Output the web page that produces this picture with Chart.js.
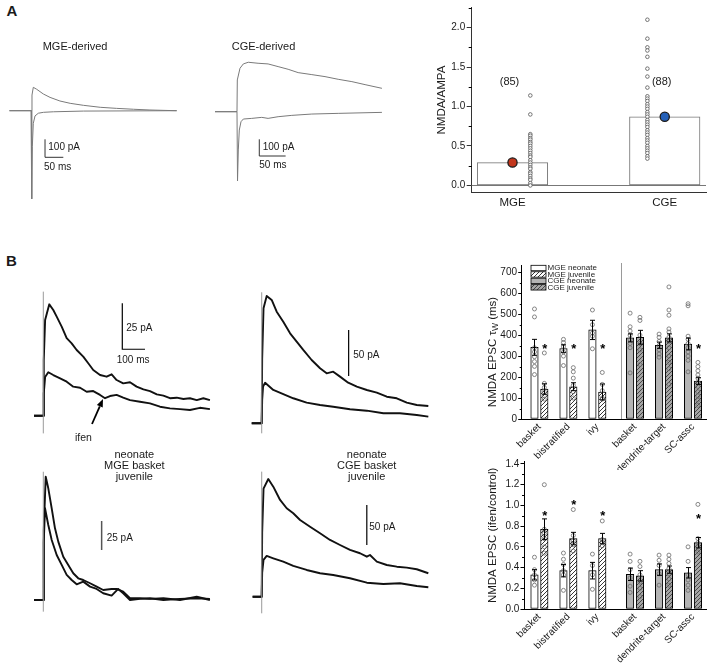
<!DOCTYPE html>
<html>
<head>
<meta charset="utf-8">
<script src="https://cdn.jsdelivr.net/npm/chart.js@4.4.1/dist/chart.umd.min.js"></script>
<style>
html,body{margin:0;padding:0;background:#fff}
body{position:relative;width:716px;height:665px;overflow:hidden;font-family:"Liberation Sans",Arial,Helvetica,sans-serif;color:#1a1a1a}
canvas{position:absolute}
.t{position:absolute;white-space:nowrap;line-height:1;font-size:10px}
.c{transform:translate(-50%,-50%)}
.l{transform:translate(0,-50%)}
</style>
</head>
<body>
<canvas id="aMge" width="200" height="175" style="left:0px;top:40px"></canvas>
<canvas id="aCge" width="190" height="165" style="left:205px;top:40px"></canvas>
<canvas id="aBar" width="296" height="240" style="left:420px;top:0px"></canvas>
<canvas id="bTL" width="190" height="160" style="left:30px;top:285px"></canvas>
<canvas id="bTR" width="190" height="160" style="left:245px;top:285px"></canvas>
<canvas id="bBL" width="190" height="160" style="left:30px;top:465px"></canvas>
<canvas id="bBR" width="190" height="160" style="left:245px;top:465px"></canvas>
<canvas id="bTau" width="256" height="215" style="left:460px;top:255px"></canvas>
<canvas id="bIfen" width="256" height="215" style="left:460px;top:450px"></canvas>

<div class="t c" style="left:12px;top:10px;font-size:15px;font-weight:bold">A</div>
<div class="t c" style="left:11.5px;top:259.5px;font-size:15px;font-weight:bold">B</div>
<div class="t l" style="left:42.7px;top:45.8px;font-size:11px">MGE-derived</div>
<div class="t l" style="left:231.7px;top:45.8px;font-size:11px">CGE-derived</div>
<div class="t l" style="left:48.3px;top:147.3px">100 pA</div>
<div class="t l" style="left:44px;top:166.7px">50 ms</div>
<div class="t l" style="left:262.7px;top:147px">100 pA</div>
<div class="t l" style="left:259.3px;top:165px">50 ms</div>
<div class="t l" style="left:126.3px;top:327.5px">25 pA</div>
<div class="t l" style="left:116.7px;top:360.3px">100 ms</div>
<div class="t l" style="left:75px;top:437px;font-size:10.5px">ifen</div>
<div class="t l" style="left:353.3px;top:355.3px">50 pA</div>
<div class="t c" style="left:134.3px;top:453.7px;font-size:11px">neonate</div>
<div class="t c" style="left:134.3px;top:464.6px;font-size:11px">MGE basket</div>
<div class="t c" style="left:134.3px;top:475.6px;font-size:11px">juvenile</div>
<div class="t l" style="left:106.7px;top:537.8px">25 pA</div>
<div class="t c" style="left:366.7px;top:453.7px;font-size:11px">neonate</div>
<div class="t c" style="left:366.7px;top:464.6px;font-size:11px">CGE basket</div>
<div class="t c" style="left:366.7px;top:475.6px;font-size:11px">juvenile</div>
<div class="t l" style="left:369.3px;top:526.7px">50 pA</div>

<script>
// ---------------- DATA ----------------
// Panel A: example EPSC traces (time in ms, current in pA)
const aMgeNmdaT = [-59, 0, 2.7, 6.3, 15.6, 33.6, 52, 79, 107, 143, 189, 234, 280, 325, 398];
const aMgeNmdaI = [0, 0, 87, 130, 119, 93, 74, 54, 41, 30, 19, 13, 8, 4, 0];
const aMgeAmpaT = [-59, 0, 2, 3.6, 6.3, 11, 20, 34, 61, 143, 398];
const aMgeAmpaI = [0, 0, -490, -200, -70, -29, -14, -9, -6, -2, 0];
const aCgeNmdaT = [-41.7, 0, 0.6, 5.7, 12, 21.4, 40, 59, 78, 97, 116, 142, 167, 192, 218, 243, 275];
const aCgeNmdaI = [0, 0, 190, 260, 286, 296, 290, 286, 270, 254, 234, 222, 210, 194, 180, 162, 140];
const aCgeAmpaT = [-41.7, 0, 1, 2.5, 4.4, 7.6, 12, 28, 47, 59, 78, 104, 142, 192, 275];
const aCgeAmpaI = [0, 0, -415, -229, -110, -60, -44, -40, -34, -40, -30, -22, -14, -10, -4];

// Panel A: NMDA/AMPA ratio
const aCats = ['MGE', 'CGE'];
const aMeans = [0.29, 0.87];
const aCounts = ['(85)', '(88)'];
const aMgeCells = [1.14, 0.90, 0.65, 0.63, 0.60, 0.58, 0.55, 0.53, 0.50, 0.47, 0.44, 0.41, 0.38, 0.36, 0.32, 0.29, 0.26, 0.23, 0.21, 0.17, 0.15, 0.12, 0.09, 0.07, 0.03, 0.0];
const aCgeCells = [2.10, 1.86, 1.75, 1.71, 1.63, 1.48, 1.38, 1.24, 1.13, 1.10, 1.07, 1.03, 1.00, 0.97, 0.93, 0.90, 0.87, 0.83, 0.80, 0.77, 0.74, 0.70, 0.67, 0.64, 0.60, 0.57, 0.54, 0.50, 0.47, 0.44, 0.41, 0.37, 0.34];
const aYTicks = [0, 0.5, 1.0, 1.5, 2.0];

// Panel B: traces (ms, pA)
const bTLCtrlT = [-41, 0, 2, 8, 26.4, 44, 59, 81, 103, 125, 147, 176, 198, 220, 250, 279, 301, 323, 352, 382, 411, 441, 470, 500, 529, 558, 588, 617, 646, 676, 705, 734];
const bTLCtrlI = [0, 0, 30, 52, 60.5, 57.4, 53.8, 48.4, 42.1, 39.3, 35.7, 32.1, 28.5, 24.8, 22.1, 21.2, 22.5, 19.4, 17.6, 18.2, 15.8, 14.3, 13.4, 11.6, 10.9, 9.5, 9.8, 9.1, 9.5, 8.5, 9.5, 8.5];
const bTLIfenT = [-41, 0, 2, 8, 22, 44, 74, 103, 132, 162, 191, 220, 250, 272, 294, 323, 352, 382, 426, 470, 514, 558, 602, 646, 690, 734];
const bTLIfenI = [0, 0, 12, 21, 23.6, 22.1, 20.3, 18.5, 15.8, 15.2, 13.0, 13.4, 11.3, 9.5, 10.7, 11.3, 9.8, 8.5, 7.6, 6.7, 4.9, 4.0, 3.6, 3.1, 4.3, 3.6];
const bTLArtI = [-9.6, 67.4];

const bTRCtrlT = [-44, 0, 2, 8, 22, 44, 66, 95, 125, 154, 183, 220, 257, 286, 315, 345, 381, 419, 463, 507, 551, 595, 639, 683, 734];
const bTRCtrlI = [0, 0, 70, 125, 138.4, 134, 121.3, 110.4, 97.8, 88.7, 79.7, 68.8, 59.8, 54.3, 56.1, 50.7, 44.1, 39.8, 36.2, 33.3, 28.9, 27.2, 22.4, 19.9, 18.8];
const bTRIfenT = [-44, 0, 2, 6, 15, 51, 95, 139, 198, 257, 315, 389, 463, 536, 609, 683, 734];
const bTRIfenI = [0, 0, 25, 40, 44.1, 36.2, 31.8, 27.2, 22.4, 19.9, 18.0, 15.2, 13.7, 10.9, 10.9, 9.0, 7.2];
const bTRArtI = [-10.9, 142.4];

const bBLNeoT = [-41, 0, 2, 10.6, 22, 37, 51.5, 66, 88, 110, 132, 154, 176, 206, 235, 264, 301, 323, 352, 382, 426, 470, 529, 602, 676, 734];
const bBLNeoI = [0, 0, 60, 106.3, 96.3, 79.0, 61.8, 50.3, 37.3, 30.2, 23.0, 18.7, 17.2, 14.4, 11.5, 8.6, 9.5, 9.5, 7.2, 1.5, 1.5, 0.9, 1.5, 0, 2.8, 0];
const bBLJuvT = [-41, 0, 2, 7.5, 22, 37, 59, 81, 103, 125, 147, 176, 206, 235, 264, 301, 330, 352, 382, 426, 470, 529, 602, 676, 734];
const bBLJuvI = [0, 0, 50, 79.1, 64.7, 51.7, 38.8, 30.2, 21.6, 17.2, 13.5, 15.8, 11.5, 9.5, 5.8, 3.7, 9.5, 5.8, 0, 0.9, 1.5, 0, 0.9, 1.5, 0.9];
const bBLArtI = [-10.1, 110.6];

const bBRNeoT = [-40, 0, 2, 8, 29, 51, 81, 110, 139, 169, 213, 257, 301, 345, 389, 433, 463, 477, 507, 551, 595, 639, 683, 734];
const bBRNeoI = [0, 0, 80, 135, 147.1, 137.5, 120.9, 110.5, 104.3, 95.9, 87.5, 79.3, 70.9, 64.6, 58.4, 54.3, 50, 52.1, 43.8, 39.6, 37.5, 36.3, 34.3, 29.3];
const bBRJuvT = [-40, 0, 2, 8, 22, 51, 95, 139, 198, 257, 315, 389, 463, 536, 609, 683, 734];
const bBRJuvI = [0, 0, 30, 46, 50.9, 48, 43.8, 38.4, 33.4, 29.3, 27.1, 23, 17.5, 15.9, 16.8, 13.4, 11.8];
const bBRArtI = [-20.8, 156.3];

// Panel B: group summaries
const bGroups = ['basket', 'bistratified', 'ivy', 'basket', 'dendrite-target', 'SC-assc'];
const bLegend = ['MGE neonate', 'MGE juvenile', 'CGE neonate', 'CGE juvenile'];

const tauMgeNeo = [342, 336, 425], tauMgeNeoErr = [38, 18, 46];
const tauMgeJuv = [143, 154, 129], tauMgeJuvErr = [25, 19, 38];
const tauCgeNeo = [387, 352, 358], tauCgeNeoErr = [19, 15, 28];
const tauCgeJuv = [390, 387, 181], tauCgeJuvErr = [33, 19, 16];
const tauMgeJuvStar = [352, 352, 352];
const tauCgeJuvStar = [null, null, 352];
const tauPtsMgeNeo = [[525, 487, 340, 320, 297, 274, 251, 212], [380, 365, 345, 320, 300, 255], [520, 450, 410, 395, 335]];
const tauPtsMgeJuv = [[315, 170, 150, 130, 110, 95], [245, 225, 195, 160, 130, 100], [222, 165, 135, 100, 95]];
const tauPtsCgeNeo = [[505, 440, 420, 400, 380, 360, 340, 220], [405, 390, 370, 350, 330, 310, 295], [550, 540, 395, 380, 360, 340, 320, 300, 280, 225]];
const tauPtsCgeJuv = [[485, 470, 400, 360, 330, 260], [630, 520, 495, 430, 415, 390, 370, 340, 300, 270, 240, 165], [270, 250, 230, 210, 195, 175, 155, 130, 110, 90, 65]];
const tauYTicks = [0, 100, 200, 300, 400, 500, 600, 700];
const tauTitle = ['NMDA EPSC τ', 'W', ' (ms)'];

const ifMgeNeo = [0.33, 0.37, 0.37], ifMgeNeoErr = [0.05, 0.06, 0.08];
const ifMgeJuv = [0.77, 0.68, 0.68], ifMgeJuvErr = [0.10, 0.06, 0.05];
const ifCgeNeo = [0.335, 0.38, 0.35], ifCgeNeoErr = [0.06, 0.055, 0.05];
const ifCgeJuv = [0.32, 0.38, 0.64], ifCgeJuvErr = [0.05, 0.035, 0.05];
const ifMgeJuvStar = [0.935, 1.04, 0.935];
const ifCgeJuvStar = [null, null, 0.90];
const ifPtsMgeNeo = [[0.50, 0.38, 0.33, 0.28, 0.23], [0.54, 0.48, 0.43, 0.37, 0.33, 0.18], [0.53, 0.42, 0.33, 0.19]];
const ifPtsMgeJuv = [[1.20, 0.77, 0.73, 0.68, 0.60, 0.54], [0.96, 0.71, 0.66, 0.62, 0.56], [0.85, 0.67, 0.64, 0.61]];
const ifPtsCgeNeo = [[0.53, 0.46, 0.38, 0.30, 0.22, 0.16], [0.52, 0.47, 0.42, 0.34, 0.23], [0.60, 0.46, 0.33, 0.28, 0.23, 0.18]];
const ifPtsCgeJuv = [[0.46, 0.41, 0.33, 0.26, 0.20, 0.12], [0.52, 0.48, 0.44, 0.39, 0.34, 0.29, 0.23], [1.01, 0.68, 0.64, 0.60, 0.55]];
const ifYTicks = [0, 0.2, 0.4, 0.6, 0.8, 1.0, 1.2, 1.4];

// ---------------- RENDER ----------------
const FONT = '"Liberation Sans", Arial, sans-serif';
Chart.defaults.font.family = FONT;
Chart.defaults.color = '#1a1a1a';
const zip = (xs, ys) => xs.map((x, i) => ({x, y: ys[i]}));
const base = {responsive: false, animation: false, devicePixelRatio: 1, events: []};

function minorTicks(chart, step, len) {
  const {ctx, chartArea: ca, scales: {y}} = chart;
  ctx.save(); ctx.strokeStyle = '#000'; ctx.lineWidth = 1; ctx.beginPath();
  const n = Math.round((y.max - y.min) / step);
  for (let k = 0; k <= n + 1; k++) {
    const v = Math.ceil(y.min / step) * step + k * step;
    if (v > y.max + 1e-9) break;
    if (Math.abs(v / (2 * step) - Math.round(v / (2 * step))) < 1e-6) continue;
    const py = Math.round(y.getPixelForValue(v)) + 0.5;
    ctx.moveTo(ca.left - len, py); ctx.lineTo(ca.left, py);
  }
  ctx.stroke(); ctx.restore();
}

// ----- trace charts -----
function traceChart(id, range, series, extras) {
  const ov = {
    id: 'traceOverlay',
    afterDatasetsDraw(chart) {
      const {ctx, scales: {x, y}} = chart;
      ctx.save();
      (extras.bars || []).forEach(b => {
        ctx.strokeStyle = b.color; ctx.lineWidth = b.width;
        ctx.beginPath();
        const px = x.getPixelForValue(b.x), py = y.getPixelForValue(b.y);
        ctx.moveTo(px, y.getPixelForValue(b.y + b.dy));
        ctx.lineTo(px, py);
        if (b.dx) ctx.lineTo(x.getPixelForValue(b.x + b.dx), py);
        ctx.stroke();
      });
      (extras.arrows || []).forEach(a => {
        const x0 = x.getPixelForValue(a.from[0]), y0 = y.getPixelForValue(a.from[1]);
        const x1 = x.getPixelForValue(a.to[0]), y1 = y.getPixelForValue(a.to[1]);
        const ang = Math.atan2(y1 - y0, x1 - x0), hl = 8, hw = 3.2;
        const bx = x1 - hl * Math.cos(ang), by = y1 - hl * Math.sin(ang);
        ctx.strokeStyle = '#000'; ctx.fillStyle = '#000'; ctx.lineWidth = 1.8;
        ctx.beginPath(); ctx.moveTo(x0, y0); ctx.lineTo(bx, by); ctx.stroke();
        ctx.beginPath(); ctx.moveTo(x1, y1);
        ctx.lineTo(bx + hw * Math.sin(ang), by - hw * Math.cos(ang));
        ctx.lineTo(bx - hw * Math.sin(ang), by + hw * Math.cos(ang));
        ctx.closePath(); ctx.fill();
      });
      ctx.restore();
    }
  };
  return new Chart(document.getElementById(id), {
    type: 'line',
    data: {datasets: series.map(s => ({
      data: zip(s.t, s.v), borderColor: s.color, borderWidth: s.width,
      pointRadius: 0, tension: 0, fill: false, borderJoinStyle: 'round'
    }))},
    options: Object.assign({}, base, {
      layout: {padding: 0},
      plugins: {legend: {display: false}, tooltip: {enabled: false}},
      scales: {
        x: {type: 'linear', display: false, min: range[0], max: range[1]},
        y: {type: 'linear', display: false, min: range[2], max: range[3]}
      }
    }),
    plugins: [ov]
  });
}

const grayTr = '#7a7a7a';
traceChart('aMge', [-84.7, 461.7, -579.4, 392.8], [
  {t: aMgeAmpaT, v: aMgeAmpaI, color: grayTr, width: 1},
  {t: aMgeNmdaT, v: aMgeNmdaI, color: grayTr, width: 1}
], {bars: [{x: 38.3, y: -258.9, dy: 100, dx: 50, color: '#333', width: 1}]});

traceChart('aCge', [-60.7, 299.8, -558.7, 429.3], [
  {t: aCgeAmpaT, v: aCgeAmpaI, color: grayTr, width: 1},
  {t: aCgeNmdaT, v: aCgeNmdaI, color: grayTr, width: 1}
], {bars: [{x: 42.3, y: -265.3, dy: 100, dx: 50, color: '#333', width: 1}]});

const artT = [0, 0];
const blk = '#111', artC = '#9a9a9a', tw = 1.9;
traceChart('bTL', [-58.6, 778.4, -15.9, 71.0], [
  {t: artT, v: bTLArtI, color: artC, width: 1},
  {t: bTLIfenT, v: bTLIfenI, color: blk, width: tw},
  {t: bTLCtrlT, v: bTLCtrlI, color: blk, width: tw}
], {bars: [{x: 348, y: 36.1, dy: 25, dx: 100, color: '#000', width: 1.2}],
    arrows: [{from: [214.5, -4.5], to: [263, 9.1]}]});

traceChart('bTR', [-73.6, 763.4, -23.6, 150.3], [
  {t: artT, v: bTRArtI, color: artC, width: 1},
  {t: bTRIfenT, v: bTRIfenI, color: blk, width: tw},
  {t: bTRCtrlT, v: bTRCtrlI, color: blk, width: tw}
], {bars: [{x: 383, y: 51.4, dy: 50, dx: 0, color: '#000', width: 1.2}]});

traceChart('bBL', [-58.6, 778.4, -21.6, 116.4], [
  {t: artT, v: bBLArtI, color: artC, width: 1},
  {t: bBLJuvT, v: bBLJuvI, color: blk, width: tw},
  {t: bBLNeoT, v: bBLNeoI, color: blk, width: tw}
], {bars: [{x: 257, y: 43.1, dy: 25, dx: 0, color: '#555', width: 1.5}]});

traceChart('bBR', [-73.6, 763.4, -35.4, 164.6], [
  {t: artT, v: bBRArtI, color: artC, width: 1},
  {t: bBRJuvT, v: bBRJuvI, color: blk, width: tw},
  {t: bBRNeoT, v: bBRNeoI, color: blk, width: tw}
], {bars: [{x: 463, y: 64.6, dy: 50, dx: 0, color: '#000', width: 1.2}]});

// ----- Panel A bar chart -----
(function () {
  const mgeOff = 0.117, cgeOff = -0.114;
  const cells = aMgeCells.map(v => ({x: 0 + mgeOff, y: v})).concat(aCgeCells.map(v => ({x: 1 + cgeOff, y: v})));
  const ov = {
    id: 'aOverlay',
    beforeDatasetsDraw(chart) {
      const {ctx, chartArea: ca, scales: {y}} = chart;
      const py = Math.round(y.getPixelForValue(0)) + 0.5;
      ctx.save(); ctx.strokeStyle = '#777'; ctx.lineWidth = 1;
      ctx.beginPath(); ctx.moveTo(ca.left, py); ctx.lineTo(ca.right, py); ctx.stroke(); ctx.restore();
    },
    afterDatasetsDraw(chart) {
      const {ctx, scales: {x, y}} = chart;
      ctx.save(); ctx.font = '11px ' + FONT; ctx.fillStyle = '#1a1a1a';
      ctx.textAlign = 'center'; ctx.textBaseline = 'middle';
      aCounts.forEach((c, i) => ctx.fillText(c, x.getPixelForValue(i) - 3, y.getPixelForValue(1.31)));
      ctx.restore();
    },
    afterDraw(chart) { minorTicks(chart, 0.25, 3); }
  };
  new Chart(document.getElementById('aBar'), {
    type: 'bar',
    data: {datasets: [
      {type: 'scatter', data: aMeans.map((v, i) => ({x: i, y: v})), pointRadius: 4.6,
       pointBackgroundColor: ['#c2361c', '#2460b8'], pointBorderColor: '#1a1a1a', pointBorderWidth: 1.3, order: 0},
      {type: 'scatter', data: cells, pointRadius: 1.8, pointBackgroundColor: '#fff',
       pointBorderColor: '#555', pointBorderWidth: 0.8, order: 1},
      {type: 'bar', data: aMeans.map((v, i) => ({x: i, y: v})), backgroundColor: '#fff',
       borderColor: '#777', borderWidth: 1, borderSkipped: false, grouped: false, barThickness: 70.5, order: 2}
    ]},
    options: Object.assign({}, base, {
      layout: {padding: {top: 3.3, right: 10, left: 0, bottom: 0}},
      plugins: {legend: {display: false}, tooltip: {enabled: false}},
      scales: {
        x: {type: 'linear', min: -0.268, max: 1.271, offset: false,
            afterBuildTicks: s => { s.ticks = aCats.map((c, i) => ({value: i})); },
            afterFit: s => { s.height = 47.3; },
            grid: {display: false, drawTicks: false, offset: false},
            border: {display: true, color: '#333', width: 1},
            ticks: {callback: (v, i) => aCats[i], padding: 3.5, maxRotation: 0, minRotation: 0, autoSkip: false,
                    font: {size: 11.5}, color: '#1a1a1a'}},
        y: {type: 'linear', min: -0.092, max: 2.255,
            afterBuildTicks: s => { s.ticks = aYTicks.map(v => ({value: v})); },
            afterFit: s => { s.width = 51.7; },
            grid: {display: true, drawOnChartArea: false, drawTicks: true, tickLength: 5, color: '#333', tickColor: '#333'},
            border: {display: true, color: '#333', width: 1},
            title: {display: true, text: 'NMDA/AMPA', font: {size: 11.5}, padding: {top: 15, bottom: 0}, color: '#1a1a1a'},
            ticks: {callback: v => v.toFixed(1), padding: 1.5, font: {size: 10}, color: '#1a1a1a'}}
      }
    }),
    plugins: [ov]
  });
})();

// ----- Panel B group bar charts -----
function hatch(bg, fg) {
  const c = document.createElement('canvas'); c.width = 4; c.height = 4;
  const g = c.getContext('2d');
  g.fillStyle = bg; g.fillRect(0, 0, 4, 4);
  g.strokeStyle = fg; g.lineWidth = 0.9; g.beginPath();
  g.moveTo(0, 4); g.lineTo(4, 0); g.moveTo(-1, 1); g.lineTo(1, -1); g.moveTo(3, 5); g.lineTo(5, 3);
  g.stroke();
  return g.createPattern(c, 'repeat');
}
const fills = ['#ffffff', hatch('#ffffff', '#222'), '#b4b4b4', hatch('#a6a6a6', '#3c3c3c')];

function groupChart(id, o) {
  const pos = bGroups.map((_, g) => g + 1 + (g >= 3 ? 0.3 : 0));
  const off = 0.17;
  const series = o.series;
  const bx = (s, i) => pos[s.g0 + i] + s.side * off;
  const datasets = series.map((s, k) => ({
    type: 'bar', label: bLegend[k], data: s.vals.map((v, i) => ({x: bx(s, i), y: v})),
    backgroundColor: fills[k], borderColor: '#000', borderWidth: 1, borderSkipped: false,
    grouped: false, barThickness: 7.5, order: 2
  }));
  const pts = [];
  series.forEach(s => s.pts.forEach((arr, i) => arr.forEach(v => pts.push({x: bx(s, i), y: v}))));
  datasets.push({type: 'scatter', data: pts, pointRadius: 2, pointBorderWidth: 0.8,
    pointBorderColor: '#6a6a6a', pointBackgroundColor: 'rgba(0,0,0,0)', order: 1});

  const ov = {
    id: 'groupOverlay',
    beforeDatasetsDraw(chart) {
      if (o.sep == null) return;
      const {ctx, chartArea: ca, scales: {x}} = chart;
      const px = Math.round(x.getPixelForValue(o.sep)) + 0.5;
      ctx.save(); ctx.strokeStyle = '#9a9a9a'; ctx.lineWidth = 1;
      ctx.beginPath(); ctx.moveTo(px, ca.top - 2); ctx.lineTo(px, ca.bottom); ctx.stroke(); ctx.restore();
    },
    afterDatasetsDraw(chart) {
      const {ctx, scales: {y}} = chart;
      ctx.save();
      series.forEach((s, k) => {
        const meta = chart.getDatasetMeta(k);
        s.vals.forEach((v, i) => {
          const px = Math.round(meta.data[i].x) + 0.5;
          const t = y.getPixelForValue(v + s.err[i]), b = y.getPixelForValue(v - s.err[i]);
          ctx.strokeStyle = '#000'; ctx.lineWidth = 1;
          ctx.beginPath();
          ctx.moveTo(px, t); ctx.lineTo(px, b);
          ctx.moveTo(px - 2.5, t); ctx.lineTo(px + 2.5, t);
          ctx.moveTo(px - 2.5, b); ctx.lineTo(px + 2.5, b);
          ctx.stroke();
          if (s.stars && s.stars[i] != null) {
            ctx.font = 'bold 13px ' + FONT; ctx.fillStyle = '#000';
            ctx.textAlign = 'center'; ctx.textBaseline = 'alphabetic';
            ctx.fillText('*', meta.data[i].x + 0.5, y.getPixelForValue(s.stars[i]) + 0.575 * 13);
          }
        });
      });
      ctx.restore();
    },
    afterDraw(chart) {
      minorTicks(chart, o.minor, 2);
      const {ctx, chartArea: ca} = chart;
      if (o.subTitle) {
        // y-axis title with a subscript, drawn rotated on the canvas
        const [p1, sub, p2] = o.subTitle;
        const f = '11.5px ' + FONT, fs = '8.5px ' + FONT;
        ctx.save();
        ctx.font = f; const w1 = ctx.measureText(p1).width, w3 = ctx.measureText(p2).width;
        ctx.font = fs; const w2 = ctx.measureText(sub).width;
        const tot = w1 + w2 + w3;
        ctx.translate(33, (ca.top + ca.bottom) / 2 + 10);
        ctx.rotate(-Math.PI / 2);
        ctx.fillStyle = '#1a1a1a'; ctx.textBaseline = 'middle'; ctx.textAlign = 'left';
        let xx = -tot / 2;
        ctx.font = f; ctx.fillText(p1, xx, 0); xx += w1;
        ctx.font = fs; ctx.fillText(sub, xx, 2.5); xx += w2;
        ctx.font = f; ctx.fillText(p2, xx, 0);
        ctx.restore();
      }
      if (!o.legend) return;
      ctx.save();
      ctx.font = '8px ' + FONT; ctx.textAlign = 'left'; ctx.textBaseline = 'middle';
      bLegend.forEach((lab, k) => {
        const x0 = ca.left + 9.3, y0 = ca.top + 0.3 + k * 6.45;
        ctx.fillStyle = fills[k]; ctx.fillRect(x0, y0, 15, 5.4);
        ctx.strokeStyle = '#000'; ctx.lineWidth = 0.8; ctx.strokeRect(x0, y0, 15, 5.4);
        ctx.fillStyle = '#1a1a1a'; ctx.fillText(lab, x0 + 16.5, y0 + 2.9);
      });
      ctx.restore();
    }
  };

  new Chart(document.getElementById(id), {
    type: 'bar',
    data: {datasets},
    options: Object.assign({}, base, {
      layout: {padding: {top: o.padTop, right: 9.3, left: 0, bottom: 0}},
      plugins: {legend: {display: false}, tooltip: {enabled: false}},
      scales: {
        x: {type: 'linear', min: o.xmin, max: 6.773, offset: false,
            afterBuildTicks: s => { s.ticks = pos.map(v => ({value: v})); },
            afterFit: s => { s.height = o.xh; },
            grid: {display: false, drawTicks: false, offset: false},
            border: {display: true, color: '#000', width: 1},
            ticks: {callback: (v, i) => bGroups[i], padding: 2, minRotation: 45, maxRotation: 45,
                    autoSkip: false, font: {size: 10}, color: '#1a1a1a'}},
        y: {type: 'linear', min: 0, max: o.ymax,
            afterBuildTicks: s => { s.ticks = o.yticks.map(v => ({value: v})); },
            afterFit: s => { s.width = o.yw; },
            grid: {display: true, drawOnChartArea: false, drawTicks: true, tickLength: 3.5, color: '#000', tickColor: '#000'},
            border: {display: true, color: '#000', width: 1},
            title: o.title ? {display: true, text: o.title, font: {size: 11.5}, padding: {top: 26.4, bottom: 0}, color: '#1a1a1a'} : {display: false},
            ticks: {callback: o.fmt, padding: 1.2, font: {size: 10}, color: '#1a1a1a'}}
      }
    }),
    plugins: [ov]
  });
}

groupChart('bTau', {
  series: [
    {vals: tauMgeNeo, err: tauMgeNeoErr, pts: tauPtsMgeNeo, g0: 0, side: -1},
    {vals: tauMgeJuv, err: tauMgeJuvErr, pts: tauPtsMgeJuv, g0: 0, side: 1, stars: tauMgeJuvStar},
    {vals: tauCgeNeo, err: tauCgeNeoErr, pts: tauPtsCgeNeo, g0: 3, side: -1},
    {vals: tauCgeJuv, err: tauCgeJuvErr, pts: tauPtsCgeJuv, g0: 3, side: 1, stars: tauCgeJuvStar}
  ],
  yticks: tauYTicks, ymax: 734.7, minor: 50, fmt: v => String(v),
  xmin: 0.389, yw: 61.7, xh: 51, padTop: 10, sep: 3.8, legend: true, subTitle: tauTitle
});

groupChart('bIfen', {
  series: [
    {vals: ifMgeNeo, err: ifMgeNeoErr, pts: ifPtsMgeNeo, g0: 0, side: -1},
    {vals: ifMgeJuv, err: ifMgeJuvErr, pts: ifPtsMgeJuv, g0: 0, side: 1, stars: ifMgeJuvStar},
    {vals: ifCgeNeo, err: ifCgeNeoErr, pts: ifPtsCgeNeo, g0: 3, side: -1},
    {vals: ifCgeJuv, err: ifCgeJuvErr, pts: ifPtsCgeJuv, g0: 3, side: 1, stars: ifCgeJuvStar}
  ],
  yticks: ifYTicks, ymax: 1.422, minor: 0.1, fmt: v => v.toFixed(1),
  xmin: 0.469, yw: 64, xh: 56, padTop: 11.7, sep: null, legend: false,
  title: 'NMDA EPSC (ifen/control)'
});
</script>
</body>
</html>
